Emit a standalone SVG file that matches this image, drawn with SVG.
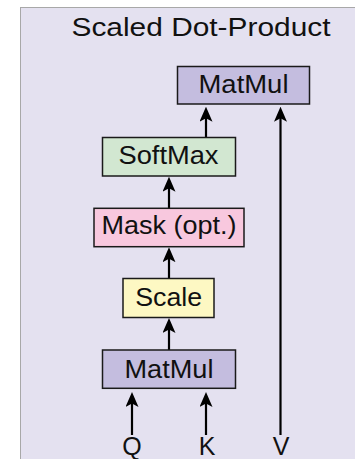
<svg xmlns="http://www.w3.org/2000/svg" width="355" height="459" viewBox="0 0 355 459">
<style>
.box{stroke:#1a1a1a;stroke-width:1.5}
.lbl{font-family:"Liberation Sans",Arial,Helvetica,sans-serif;font-size:25px;fill:#111;text-anchor:middle}
.ttl{font-family:"Liberation Sans",Arial,Helvetica,sans-serif;font-size:26px;fill:#111;text-anchor:middle}
.edge{stroke:#000;stroke-width:2.2;fill:none;marker-end:url(#ah)}
</style>
<defs>
<marker id="ah" viewBox="0 0 15 13" refX="9" refY="6.5" markerWidth="15" markerHeight="13" markerUnits="userSpaceOnUse" orient="auto">
<path d="M0,0 L15,6.5 L0,13 L3.5,6.5 Z" fill="#000"/>
</marker>
</defs>
<rect id="panel" x="20.5" y="7.5" width="360" height="470" fill="#e4e1f0" stroke="#a8a8a8" stroke-width="1"/>
<text class="ttl" x="201" y="35.5" textLength="259" lengthAdjust="spacingAndGlyphs">Scaled Dot-Product</text>
<g id="connectors">
<line class="edge" x1="206" y1="137" x2="206" y2="112.7"/>
<line class="edge" x1="280.5" y1="435" x2="280.5" y2="112.7"/>
<line class="edge" x1="169" y1="208" x2="169" y2="182.7"/>
<line class="edge" x1="169" y1="278.5" x2="169" y2="253.2"/>
<line class="edge" x1="169" y1="350" x2="169" y2="324"/>
<line class="edge" x1="132" y1="435" x2="132" y2="398"/>
<line class="edge" x1="206" y1="435" x2="206" y2="398"/>
</g>
<g id="matmul2">
<rect class="box" x="177.5" y="66.5" width="132" height="37.5" fill="#c4bddf"/>
<text class="lbl" x="243.5" y="92.7" textLength="90" lengthAdjust="spacingAndGlyphs">MatMul</text>
</g>
<g id="softmax">
<rect class="box" x="102.5" y="137.5" width="133" height="38.5" fill="#d2e7d1"/>
<text class="lbl" x="168.5" y="164.3" textLength="100" lengthAdjust="spacingAndGlyphs">SoftMax</text>
</g>
<g id="mask">
<rect class="box" x="94" y="208.3" width="150" height="38.4" fill="#f8c8de"/>
<text class="lbl" x="169" y="233.5" textLength="135" lengthAdjust="spacingAndGlyphs">Mask (opt.)</text>
</g>
<g id="scale">
<rect class="box" x="123" y="278.5" width="91" height="39" fill="#fdf8c3"/>
<text class="lbl" x="168.7" y="305.7" textLength="67" lengthAdjust="spacingAndGlyphs">Scale</text>
</g>
<g id="matmul1">
<rect class="box" x="102.5" y="350" width="133" height="38.3" fill="#c4bddf"/>
<text class="lbl" x="169" y="378.3" textLength="89" lengthAdjust="spacingAndGlyphs">MatMul</text>
</g>
<g id="inputs">
<text class="lbl" x="132" y="455.3">Q</text>
<text class="lbl" x="207" y="455.3">K</text>
<text class="lbl" x="281" y="455.3">V</text>
</g>
</svg>
